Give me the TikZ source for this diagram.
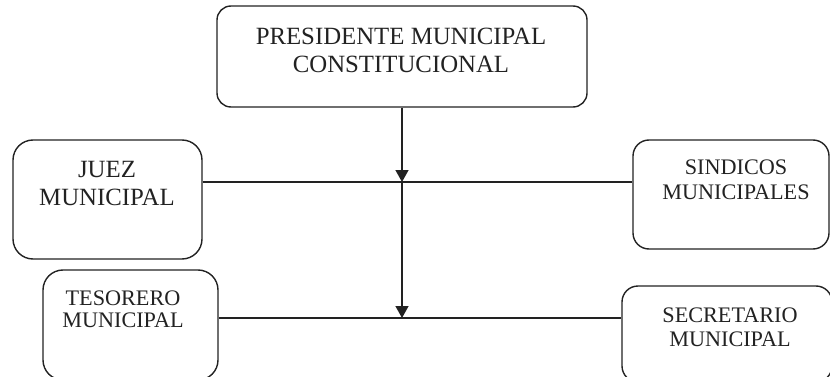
\documentclass[tikz,border=0pt]{standalone}
\usepackage{fontspec}
\setmainfont{Liberation Serif}
\usetikzlibrary{arrows.meta}
\definecolor{ink}{HTML}{222222}
\tikzset{
  box/.style={draw=ink, line width=1.4pt, rounded corners=16pt, inner sep=0pt},
  big/.style={text=ink, inner sep=0pt, anchor=base, font=\fontsize{24.8}{28}\selectfont},
  small/.style={text=ink, inner sep=0pt, anchor=base, font=\fontsize{22.2}{25}\selectfont},
  conn/.style={draw=ink, line width=1.4pt},
  arr/.style={conn, -{Triangle[width=13pt,length=12pt]}}
}
\begin{document}
\begin{tikzpicture}[x=1pt, y=-1pt]
\useasboundingbox (0,0) rectangle (830,377);
\clip (0,0) rectangle (830,377);
% boxes
\node[box, minimum width=370pt, minimum height=101pt, rounded corners=14pt] (pres) at (402,56.5) {};
\node[box, minimum width=189pt, minimum height=119pt, rounded corners=20pt] (juez) at (107.5,199.5) {};
\node[box, minimum width=196pt, minimum height=109pt, rounded corners=16pt] (sind) at (731,194.5) {};
\node[box, minimum width=175pt, minimum height=110pt, rounded corners=20pt] (tes) at (130.5,325) {};
\node[box, minimum width=210pt, minimum height=96pt, rounded corners=16pt] (sec) at (727,334) {};
% texts
\node[big] (p1) at (401,45) {PRESIDENTE MUNICIPAL};
\node[big] (p2) at (401,73) {CONSTITUCIONAL};
\node[big] (j1t) at (107,178) {JUEZ};
\node[big] (j2t) at (107,205) {MUNICIPAL};
\node[small] (s1) at (736,175) {SINDICOS};
\node[small] (s2) at (736,200) {MUNICIPALES};
\node[small] (t1) at (123,305) {TESORERO};
\node[small] (t2) at (123,327) {MUNICIPAL};
\node[small] (c1) at (730,322) {SECRETARIO};
\node[small] (c2) at (730,346) {MUNICIPAL};
% connectors
\coordinate (ja) at (402,182);
\coordinate (jb) at (402,318);
\draw[arr] (pres.south -| ja) -- (ja);
\draw[arr] (ja) -- (jb);
\draw[conn] (ja -| juez.east) -- (ja -| sind.west);
\draw[conn] (jb -| tes.east) -- (jb -| sec.west);
\end{tikzpicture}
\end{document}
